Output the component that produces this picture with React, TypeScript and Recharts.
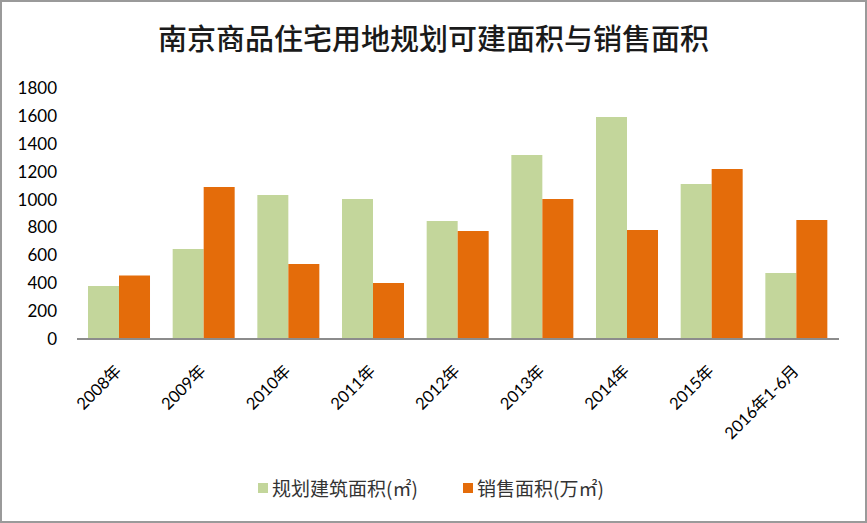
import React from "react";
import { BarChart, Bar, XAxis, YAxis } from "recharts";

const categories = [
  "2008年",
  "2009年",
  "2010年",
  "2011年",
  "2012年",
  "2013年",
  "2014年",
  "2015年",
  "2016年1-6月",
];
const plannedArea = [380, 645, 1033, 1004, 846, 1320, 1592, 1112, 473];
const salesArea = [455, 1090, 538, 402, 775, 1004, 782, 1220, 854];
const yTicks = [0, 200, 400, 600, 800, 1000, 1200, 1400, 1600, 1800];

const legendItems = [
  { label: "规划建筑面积(㎡)", color: "#C3D69B", left: 258 },
  { label: "销售面积(万㎡)", color: "#E46C0A", left: 463 },
];

const GREEN = "#C3D69B";
const ORANGE = "#E46C0A";
const TICK_FONT = "Lato, 'Open Sans', sans-serif";
const CJK_FONT = "'Noto Sans CJK SC', sans-serif";

const data = categories.map((name, i) => ({
  name,
  planned: plannedArea[i],
  sales: salesArea[i],
}));

const XTick = (props: any) => {
  const { x, y, payload } = props;
  const tx = x + 3;
  const ty = y + 25;
  return (
    <text
      x={tx}
      y={ty}
      textAnchor="end"
      fontSize={16.5}
      fontFamily={TICK_FONT + ", " + CJK_FONT}
      fill="#000"
      transform={`rotate(-45, ${tx}, ${ty})`}
    >
      {payload.value}
    </text>
  );
};

export default function App() {
  return (
    <div
      style={{
        position: "absolute",
        left: 0,
        top: 0,
        width: 867,
        height: 523,
        background: "#fff",
        boxSizing: "border-box",
        border: "2px solid #9a9a9a",
      }}
    >
      <div
        style={{
          position: "absolute",
          left: 0,
          top: 14,
          width: 863,
          textAlign: "center",
          fontFamily: CJK_FONT,
          fontSize: 29,
          fontWeight: 500,
          color: "#1a1a1a",
        }}
      >
        南京商品住宅用地规划可建面积与销售面积
      </div>
      <div style={{ position: "absolute", left: -2, top: -2 }}>
        <BarChart
          width={867}
          height={523}
          data={data}
          margin={{ top: 88, right: 28, left: 0, bottom: 74 }}
          barCategoryGap="13%"
          barGap={0}
        >
          <XAxis
            dataKey="name"
            height={110}
            interval={0}
            tickLine={false}
            axisLine={{ stroke: "#8c8c8c", strokeWidth: 2 }}
            tick={<XTick />}
          />
          <YAxis
            width={77}
            domain={[0, 1800]}
            ticks={yTicks}
            axisLine={false}
            tickLine={false}
            tickSize={0}
            tickMargin={20}
            tick={{ fontSize: 17, fontFamily: TICK_FONT, fill: "#000" }}
          />
          <Bar dataKey="planned" fill={GREEN} isAnimationActive={false} />
          <Bar dataKey="sales" fill={ORANGE} isAnimationActive={false} />
        </BarChart>
      </div>
      {legendItems.map((item) => (
        <div
          key={item.label}
          style={{
            position: "absolute",
            top: 472,
            left: item.left - 2,
            display: "flex",
            alignItems: "center",
            fontFamily: CJK_FONT,
            fontSize: 19,
            color: "#333",
            whiteSpace: "nowrap",
          }}
        >
          <span
            style={{
              width: 10,
              height: 10,
              background: item.color,
              marginRight: 4,
              display: "inline-block",
            }}
          />
          {item.label}
        </div>
      ))}
    </div>
  );
}
